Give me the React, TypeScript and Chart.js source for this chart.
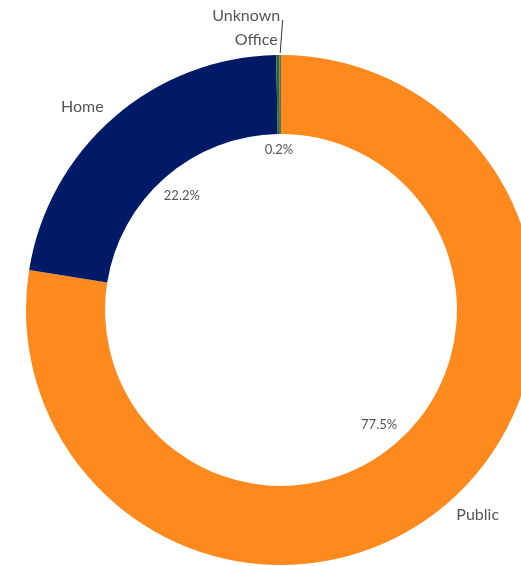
import React, { useEffect, useRef } from 'react';
import { Chart, registerables } from 'chart.js';

Chart.register(...registerables);

const categories = ['Public', 'Home', 'Office', 'Unknown'];
const values = [77.5, 22.2, 0.2, 0.1];
const pctLabels = ['77.5%', '22.2%', '0.2%', ''];
const colors = ['#FE8A1E', '#001A68', '#2F6B2F', '#5E6B5E'];

const labelPlugin = {
  id: 'donutLabels',
  afterDatasetsDraw(chart: any) {
    const ctx = chart.ctx as CanvasRenderingContext2D;
    const meta = chart.getDatasetMeta(0);
    ctx.save();
    const placed: { x0: number; x1: number; y0: number; y1: number }[] = [];
    meta.data.forEach((arc: any, i: number) => {
      const { x, y, startAngle, endAngle, innerRadius, outerRadius } = arc.getProps(
        ['x', 'y', 'startAngle', 'endAngle', 'innerRadius', 'outerRadius'],
        true
      );
      const mid = (startAngle + endAngle) / 2;
      const cos = Math.cos(mid);
      const sin = Math.sin(mid);

      if (pctLabels[i]) {
        const pr = innerRadius - 26 + 10 * Math.pow(Math.abs(sin), 8);
        ctx.font = '13px Lato';
        ctx.fillStyle = '#555';
        ctx.textAlign = 'center';
        ctx.textBaseline = 'middle';
        ctx.fillText(pctLabels[i], x + cos * pr, y + sin * pr);
      }

      const r = outerRadius + 15;
      const lx = x + cos * r;
      let ly = y + sin * r;
      ctx.font = '16px Lato';
      const w = ctx.measureText(categories[i]).width;
      const alignRight = cos < 0;
      const h = 18;
      let moved = false;
      const box = () => ({
        x0: alignRight ? lx - w : lx,
        x1: alignRight ? lx : lx + w,
        y0: ly - h / 2,
        y1: ly + h / 2,
      });
      let b = box();
      let guard = 0;
      while (
        guard < 10 &&
        placed.some((p) => b.x0 < p.x1 && b.x1 > p.x0 && b.y0 < p.y1 && b.y1 > p.y0)
      ) {
        ly += sin < 0 ? -24 : 24;
        moved = true;
        b = box();
        guard++;
      }
      placed.push(b);
      if (moved) {
        ctx.strokeStyle = '#333';
        ctx.lineWidth = 1;
        ctx.beginPath();
        ctx.moveTo(x + cos * (outerRadius + 2), y + sin * (outerRadius + 2));
        ctx.lineTo(lx + 2.5, ly + 4);
        ctx.stroke();
      }
      ctx.fillStyle = '#555';
      ctx.textAlign = alignRight ? 'right' : 'left';
      ctx.textBaseline = 'middle';
      ctx.fillText(categories[i], lx, ly);
    });
    ctx.restore();
  },
};

export default function App() {
  const ref = useRef<HTMLCanvasElement | null>(null);
  useEffect(() => {
    if (!ref.current) return;
    const chart = new Chart(ref.current, {
      type: 'doughnut',
      data: {
        labels: categories,
        datasets: [
          {
            data: values,
            backgroundColor: colors,
            borderWidth: 0,
          },
        ],
      },
      options: {
        responsive: false,
        animation: false,
        cutout: '69%',
        layout: { padding: 26 },
        plugins: {
          legend: { display: false },
          tooltip: { enabled: false },
        },
      },
      plugins: [labelPlugin],
    });
    return () => chart.destroy();
  }, []);
  return (
    <div
      style={{
        position: 'fixed',
        left: 0,
        top: 0,
        width: 521,
        height: 566,
        overflow: 'hidden',
        background: '#fff',
      }}
    >
      <canvas ref={ref} width={562} height={620} style={{ display: 'block' }} />
    </div>
  );
}
